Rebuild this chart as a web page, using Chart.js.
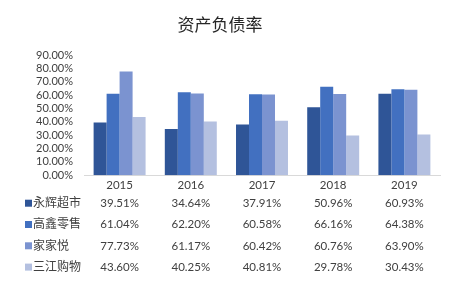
<!DOCTYPE html>
<html>
<head>
<meta charset="utf-8">
<script src="https://cdn.jsdelivr.net/npm/chart.js@4"></script>
<style>
  html, body { margin: 0; padding: 0; background: #fff; }
  #wrap { width: 454px; height: 284px; }
</style>
</head>
<body>
<div id="wrap"><canvas id="myChart" width="454" height="284"></canvas></div>
<script>
var years = ["2015", "2016", "2017", "2018", "2019"];
var seriesNames = ["永辉超市", "高鑫零售", "家家悦", "三江购物"];
var yonghui = [39.51, 34.64, 37.91, 50.96, 60.93];
var gaoxin = [61.04, 62.20, 60.58, 66.16, 64.38];
var jiajiayue = [77.73, 61.17, 60.42, 60.76, 63.90];
var sanjiang = [43.60, 40.25, 40.81, 29.78, 30.43];
var colors = ["#2f5597", "#4270c0", "#7b93d0", "#b4c0e0"];

var allSeries = [yonghui, gaoxin, jiajiayue, sanjiang];
var fontFam = "Lato, 'Noto Sans CJK SC', sans-serif";

// data table under the x axis
var tablePlugin = {
    id: "dataTable",
    afterDraw: function (chart) {
        var ctx = chart.ctx;
        var xs = chart.scales.x;
        var top = chart.chartArea.bottom;
        ctx.save();
        ctx.textBaseline = "middle";
        for (var i = 0; i < allSeries.length; i++) {
            var y = top + 28 + i * 21.3;
            ctx.fillStyle = colors[i];
            ctx.fillRect(25, y - 3.5, 7, 7);
            ctx.fillStyle = "#404040";
            ctx.font = "12px " + fontFam;
            ctx.textAlign = "left";
            ctx.fillText(seriesNames[i], 33, y);
            ctx.textAlign = "center";
            ctx.font = "11.5px " + fontFam;
            for (var j = 0; j < years.length; j++) {
                ctx.fillText(allSeries[i][j].toFixed(2) + "%", xs.getPixelForValue(j), y);
            }
        }
        ctx.restore();
    }
};

document.addEventListener("DOMContentLoaded", function () {
    var ctx = document.getElementById("myChart").getContext("2d");
    new Chart(ctx, {
        type: "bar",
        data: {
            labels: years,
            datasets: seriesNames.map(function (name, i) {
                return {
                    label: name,
                    data: allSeries[i],
                    backgroundColor: colors[i],
                    categoryPercentage: 0.73,
                    barPercentage: 1.0
                };
            })
        },
        options: {
            responsive: false,
            animation: false,
            layout: { padding: { left: 0, right: 14, top: 0, bottom: 89 } },
            plugins: {
                legend: { display: false },
                tooltip: { enabled: false },
                title: {
                    display: true,
                    text: "资产负债率",
                    color: "#262626",
                    font: { family: fontFam, size: 17, weight: "normal" },
                    padding: { top: 15, bottom: 19.6 }
                }
            },
            scales: {
                x: {
                    grid: { display: false, drawTicks: false },
                    border: { display: true, color: "#d9d9d9", width: 1 },
                    ticks: { color: "#404040", font: { family: fontFam, size: 11.5 }, padding: 3, autoSkip: false, maxRotation: 0 }
                },
                y: {
                    min: 0,
                    max: 90,
                    grid: { display: false, drawTicks: false },
                    border: { display: false },
                    ticks: {
                        stepSize: 10,
                        autoSkip: false,
                        color: "#404040",
                        font: { family: fontFam, size: 11 },
                        padding: 11,
                        callback: function (v) { return v.toFixed(2) + "%"; }
                    },
                    afterFit: function (scale) { scale.width = 84; }
                }
            }
        },
        plugins: [tablePlugin]
    });
});
</script>
</body>
</html>
